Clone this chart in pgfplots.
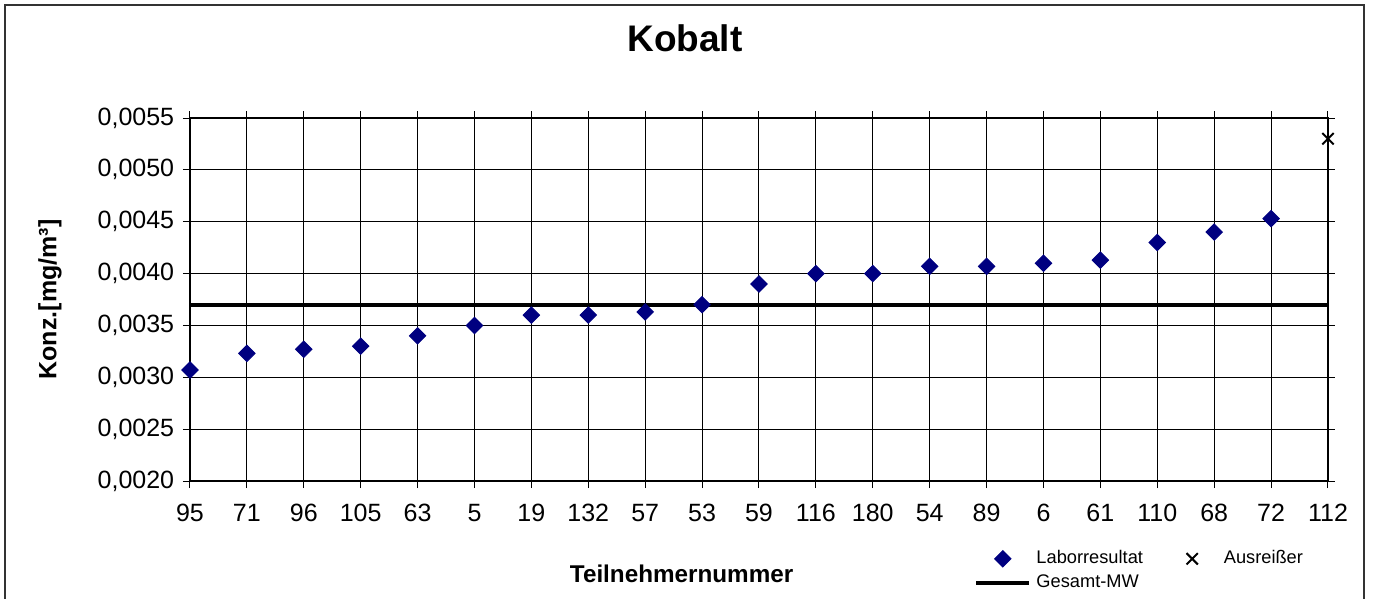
\documentclass[border=0pt]{standalone}
\usepackage{fontspec}
\setmainfont{Liberation Sans}
\usepackage{pgfplots}
\pgfplotsset{compat=1.18}
\usetikzlibrary{calc}
\definecolor{navy}{RGB}{0,0,128}

\pgfplotsset{
    markleg/.style={legend image code/.code={\path[draw=none,fill=none] (0,0) -- (0.75cm,0); \draw[##1] plot coordinates {(0.375cm,0cm)};}},
    lineleg/.style={legend image code/.code={\draw[##1] (0,0) -- (0.75cm,0);}},
}

\begin{document}
\begin{tikzpicture}
\begin{axis}[
    scale only axis,
    width=455.2pt, height=145.2pt,
    at={(0,0)}, anchor=south west,
    xmin=0, xmax=20,
    ymin=0.0020, ymax=0.0055,
    xtick={0,...,20},
    xticklabels={95,71,96,105,63,5,19,132,57,53,59,116,180,54,89,6,61,110,68,72,112},
    ytick={0.0020,0.0025,0.0030,0.0035,0.0040,0.0045,0.0050,0.0055},
    scaled y ticks=false,
    yticklabel style={/pgf/number format/.cd, fixed, fixed zerofill, precision=4, use comma, assume math mode=true},
    ticklabel style={font=\fontsize{10}{11}\selectfont},
    xticklabel style={yshift=-3pt},
    tick align=outside,
    major tick length=2.8pt,
    tick style={black, line width=0.4pt},
    grid=major,
    major grid style={black, line width=0.4pt},
    axis line style={black, line width=0.9pt},
    clip=false,
    title={Kobalt},
    title style={font=\bfseries\fontsize{14.8}{16}\selectfont, at={(rel axis cs:0.435,1)}, anchor=center, yshift=26pt},
    xlabel={Teilnehmernummer},
    xlabel style={font=\bfseries\fontsize{9.7}{11}\selectfont, at={(rel axis cs:0.432,0)}, anchor=center, yshift=-37.2pt},
    ylabel={Konz.[mg/m³]},
    ylabel style={font=\bfseries\fontsize{10}{11}\selectfont, at={($(rel axis cs:0,0.5)+(-56pt,0)$)}, anchor=center},
    legend columns=2,
    legend cell align=left,
    legend style={draw=none, fill=none, font=\fontsize{7.3}{8.5}\selectfont,
        at={(rel axis cs:0.682,-0.162)}, anchor=north west,
        /tikz/every even column/.append style={column sep=7pt},
        row sep=-1pt},
]
\addplot[only marks, mark=square*, mark size=2.3pt, color=navy, fill=navy,
    mark options={rotate=45}, markleg]
    coordinates {
    (0,0.00307) (1,0.00323) (2,0.00327) (3,0.00330) (4,0.00340)
    (5,0.00350) (6,0.00360) (7,0.00360) (8,0.00363) (9,0.00370)
    (10,0.00390) (11,0.00400) (12,0.00400) (13,0.00407) (14,0.00407)
    (15,0.00410) (16,0.00413) (17,0.00430) (18,0.00440) (19,0.00453)
};
\addlegendentry{Laborresultat}
\addplot[only marks, mark=x, mark size=3.2pt, color=black, mark options={line width=0.8pt}, markleg]
    coordinates {
    (20,0.00530)
};
\addlegendentry{Ausreißer}
\addplot[black, line width=1.6pt, mark=none, lineleg]
    coordinates {(0,0.0037) (20,0.0037)};
\addlegendentry{Gesamt-MW}
\end{axis}
\draw[black!80, line width=0.6pt] (-74pt,-60pt) -- (-74pt,190.4pt) -- (469.6pt,190.4pt) -- (469.6pt,-60pt);
\pgfresetboundingbox
\useasboundingbox (-76pt,-46.8pt) rectangle (473.6pt,192.4pt);
\end{tikzpicture}
\end{document}
